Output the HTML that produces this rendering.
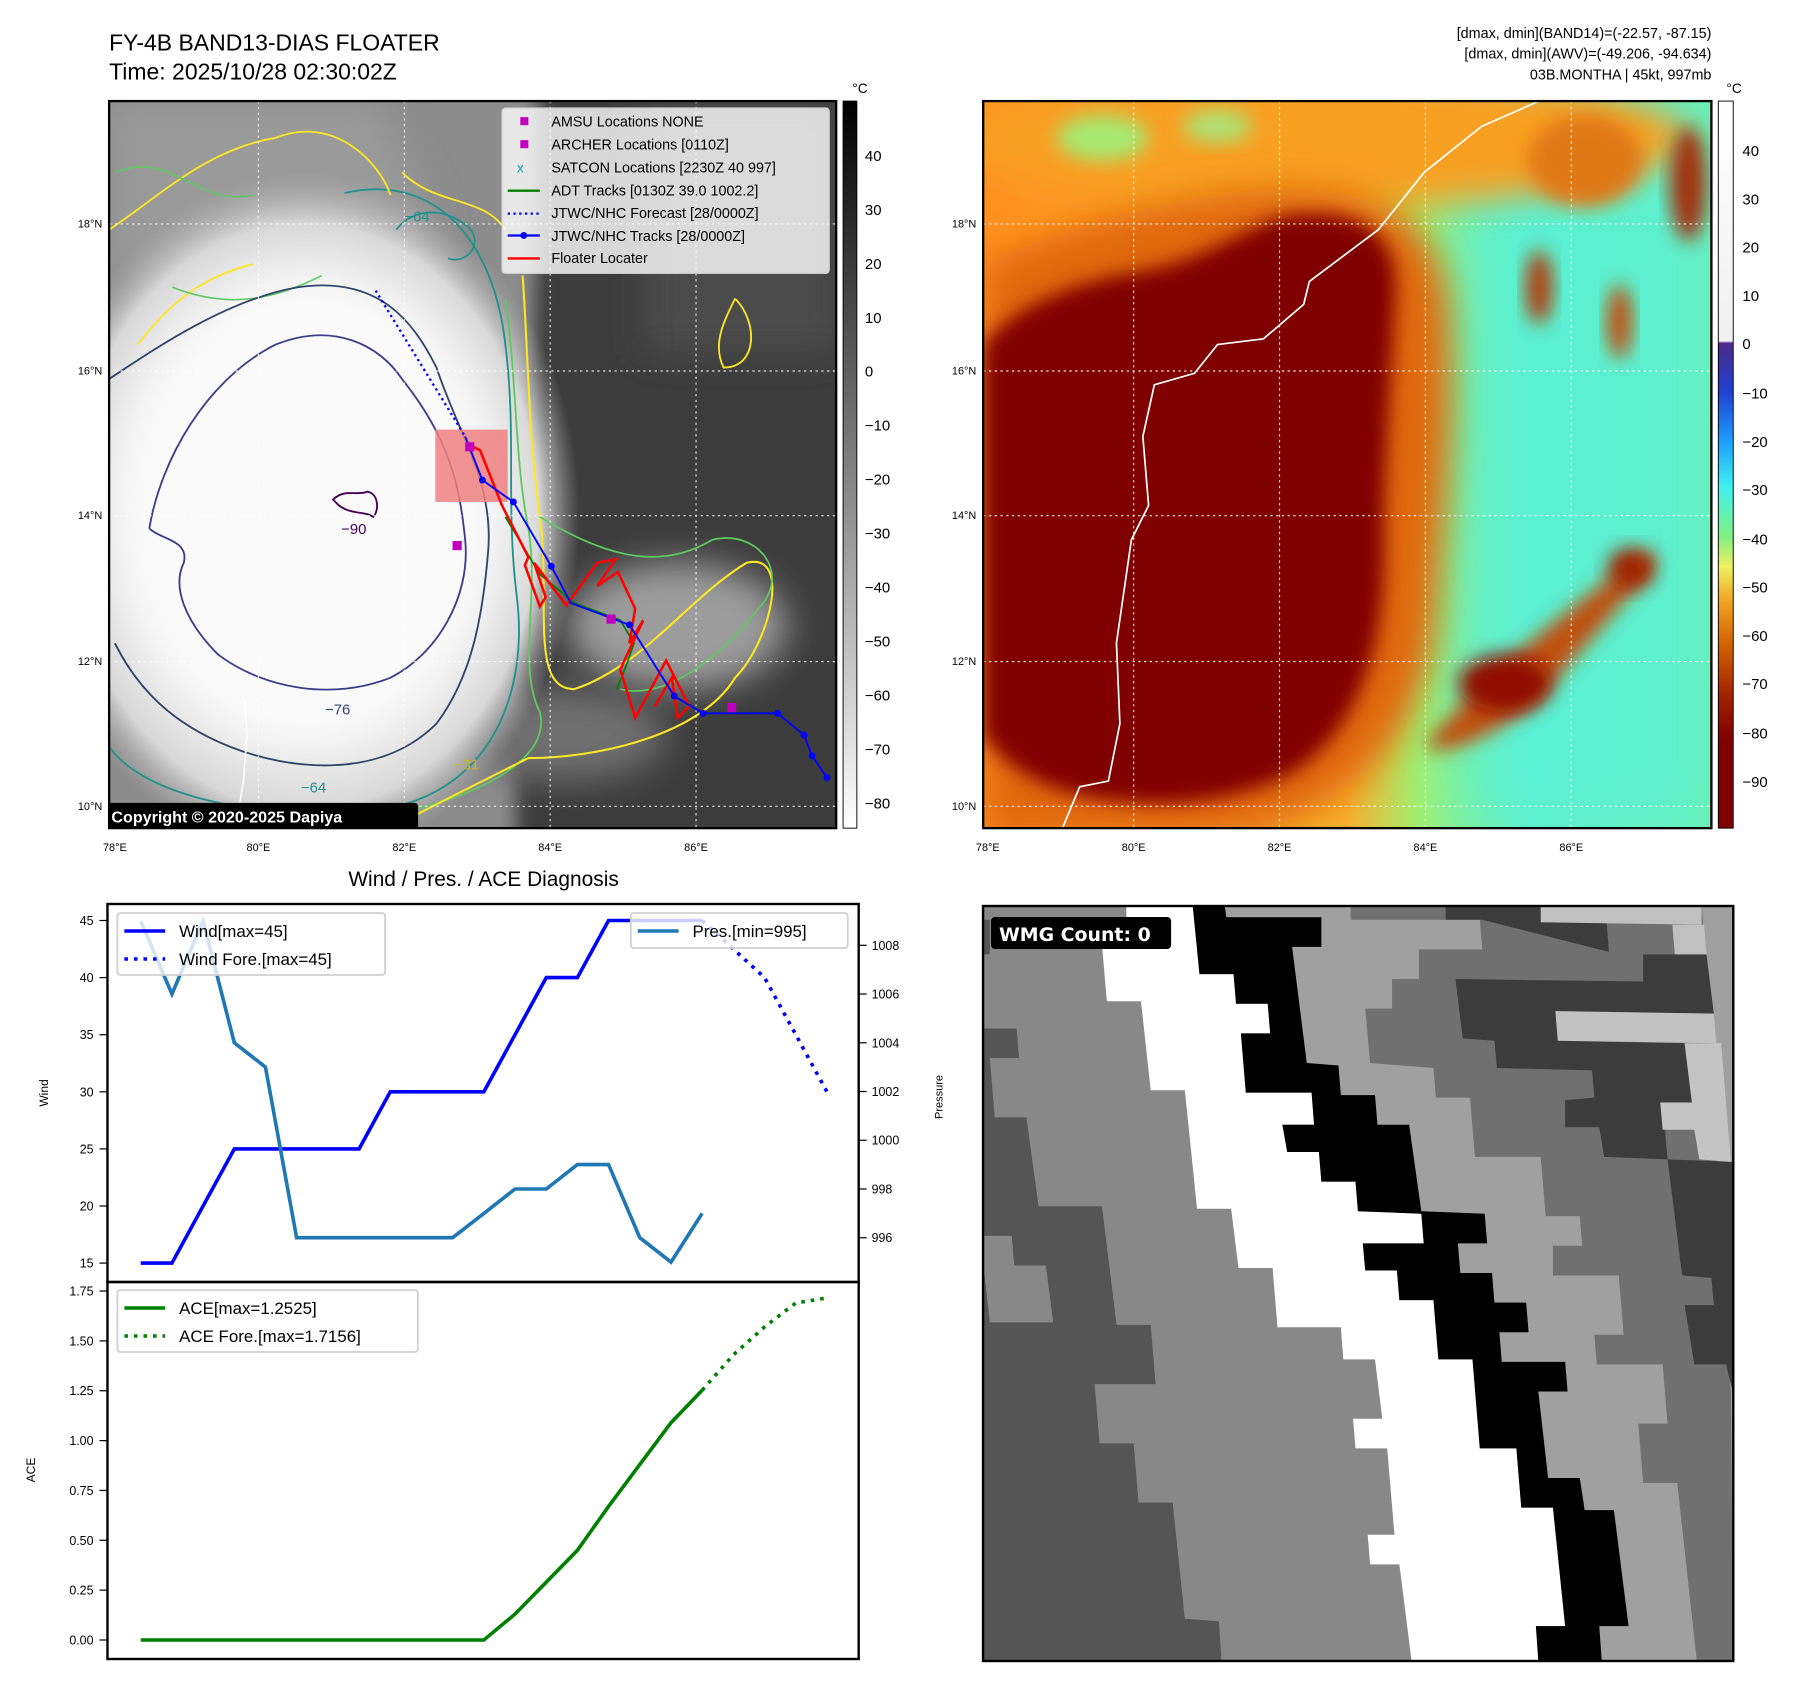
<!DOCTYPE html>
<html><head><meta charset="utf-8"><style>
html,body{margin:0;padding:0;background:#fff}
svg{display:block;font-family:"Liberation Sans","DejaVu Sans",sans-serif}
</style></head><body>
<svg id="root" width="1801" height="1690" viewBox="0 0 1801 1690" xmlns="http://www.w3.org/2000/svg">
<defs>
 <filter id="blur8" x="-30%" y="-30%" width="160%" height="160%"><feGaussianBlur stdDeviation="8"/></filter>
 <filter id="blur15" x="-30%" y="-30%" width="160%" height="160%"><feGaussianBlur stdDeviation="15"/></filter>
 <filter id="blur25" x="-30%" y="-30%" width="160%" height="160%"><feGaussianBlur stdDeviation="25"/></filter>
 <radialGradient id="stormG" cx="0.5" cy="0.5" r="0.5">
  <stop offset="0" stop-color="#ffffff"/><stop offset="0.6" stop-color="#f6f6f6"/><stop offset="0.85" stop-color="#d8d8d8"/><stop offset="1" stop-color="#b0b0b0" stop-opacity="0"/>
 </radialGradient>
 <linearGradient id="bgR" x1="0" y1="0" x2="1" y2="0">
  <stop offset="0" stop-color="#ff9020"/><stop offset="0.5" stop-color="#f8b030"/><stop offset="0.6" stop-color="#a0f070"/><stop offset="0.75" stop-color="#60f0c8"/><stop offset="1" stop-color="#70f0b0"/>
 </linearGradient>
 <linearGradient id="cbL" x1="0" y1="0" x2="0" y2="1"><stop offset="0" stop-color="#000"/><stop offset="1" stop-color="#fff"/></linearGradient>
 <linearGradient id="cbR" x1="0" y1="0" x2="0" y2="1">
  <stop offset="0" stop-color="#ffffff"/><stop offset="0.33" stop-color="#f0f0f0"/><stop offset="0.333" stop-color="#4b2a8a"/>
  <stop offset="0.40" stop-color="#2040d0"/><stop offset="0.47" stop-color="#1ea0ff"/><stop offset="0.53" stop-color="#40f0f0"/>
  <stop offset="0.60" stop-color="#80f080"/><stop offset="0.64" stop-color="#f0f060"/><stop offset="0.69" stop-color="#f0a020"/>
  <stop offset="0.75" stop-color="#d06000"/><stop offset="0.82" stop-color="#a02000"/><stop offset="0.88" stop-color="#800000"/><stop offset="1" stop-color="#800000"/>
 </linearGradient>
 <clipPath id="clipL"><rect x="95" y="88" width="633" height="633"/></clipPath>
 <clipPath id="clipR"><rect x="856" y="88" width="634" height="633"/></clipPath>
 <clipPath id="clipW"><rect x="6" y="12" width="1539" height="1528"/></clipPath>
</defs>

<g transform="scale(1.1486)">
 <text x="95" y="44" font-size="20">FY-4B BAND13-DIAS FLOATER</text>
 <text x="95" y="69" font-size="20">Time: 2025/10/28 02:30:02Z</text>
 <g font-size="12.5" text-anchor="end">
  <text x="1490" y="33">[dmax, dmin](BAND14)=(-22.57, -87.15)</text>
  <text x="1490" y="51">[dmax, dmin](AWV)=(-49.206, -94.634)</text>
  <text x="1490" y="69">03B.MONTHA | 45kt, 997mb</text>
 </g>

 <g clip-path="url(#clipL)">
  <rect x="95" y="88" width="633" height="633" fill="#3c3c3c"/>
  <rect x="560" y="88" width="170" height="220" fill="#4c4c4c" filter="url(#blur15)"/>
  <polygon points="60,60 470,60 465,300 445,460 450,760 60,760" fill="#8c8c8c" filter="url(#blur8)"/>
  <polygon points="95,88 330,88 380,200 300,230 95,240" fill="#9a9a9a" filter="url(#blur15)"/>
  <ellipse cx="590" cy="545" rx="95" ry="55" fill="#9c9c9c" filter="url(#blur15)"/>
  <ellipse cx="490" cy="640" rx="90" ry="40" fill="#707070" filter="url(#blur15)"/>
  <ellipse cx="265" cy="450" rx="240" ry="300" fill="url(#stormG)"/>
  <ellipse cx="270" cy="440" rx="160" ry="200" fill="#fafafa" filter="url(#blur25)"/>
  <path d="M300,168 C380,150 430,210 440,300 C450,380 440,440 450,520 C460,600 430,690 330,705 C250,715 130,700 95,650" fill="none" stroke="#21918c" stroke-width="1.6"/>
  <path d="M440,260 C450,330 448,400 460,460 C470,520 450,580 470,620 C480,660 420,690 360,705" fill="none" stroke="#5ec962" stroke-width="1.6"/>
  <path d="M455,240 C460,310 460,380 470,450 C480,520 460,600 500,600 C560,580 600,520 650,490 C690,480 670,560 640,590 C610,640 520,660 460,660 C420,680 380,700 340,721" fill="none" stroke="#fde725" stroke-width="1.8"/>
  <path d="M470,450 C520,480 570,500 620,470 C660,460 690,500 660,530 C630,570 580,610 540,600" fill="none" stroke="#5ec962" stroke-width="1.5"/>
  <path d="M95,200 C140,170 180,130 240,120 C290,100 330,140 340,170 M120,300 C150,260 180,240 220,230 M350,150 C380,180 420,170 440,200 M640,260 C660,280 660,320 630,320 C620,300 630,280 640,260" fill="none" stroke="#fde725" stroke-width="1.6"/>
  <path d="M100,150 C150,130 170,180 220,170 M150,250 C200,270 240,260 280,240" fill="none" stroke="#5ec962" stroke-width="1.4"/>
  <path d="M95,330 C140,300 200,260 260,250 C330,240 360,280 380,320 C400,380 430,420 425,480 C420,540 410,590 380,630 C330,680 250,670 200,650 C150,630 120,600 100,560" fill="none" stroke="#31446b" stroke-width="1.6"/>
  <path d="M130,460 C140,400 180,330 240,300 C290,280 330,300 350,330 C390,380 400,420 405,470 C410,520 380,570 340,590 C290,610 230,600 190,570 C160,540 150,510 160,490 C165,470 140,470 130,460" fill="none" stroke="#3b3d8b" stroke-width="1.6"/>
  <path d="M290,435 C300,425 310,432 320,428 C330,430 330,445 325,450 C318,445 305,448 295,440 Z" fill="none" stroke="#440154" stroke-width="1.6"/>
  <path d="M345,200 C360,180 390,180 410,200 C420,215 405,230 390,225" fill="none" stroke="#21918c" stroke-width="1.5"/>
  <g font-size="13">
   <text x="297" y="465" fill="#440154">−90</text>
   <text x="283" y="622" fill="#31446b">−76</text>
   <text x="262" y="690" fill="#21918c">−64</text>
   <text x="395" y="670" fill="#c8b820">−31</text>
   <text x="352" y="193" fill="#21918c">−64</text>
  </g>
  <g stroke="#ffffff" stroke-width="1" stroke-dasharray="2,3" opacity="0.85">
   <line x1="225" y1="88" x2="225" y2="721"/><line x1="352" y1="88" x2="352" y2="721"/><line x1="479" y1="88" x2="479" y2="721"/><line x1="606" y1="88" x2="606" y2="721"/>
   <line x1="95" y1="195" x2="728" y2="195"/><line x1="95" y1="323" x2="728" y2="323"/><line x1="95" y1="449" x2="728" y2="449"/><line x1="95" y1="576" x2="728" y2="576"/><line x1="95" y1="702" x2="728" y2="702"/>
  </g>
  <path d="M205,721 L212,680 L215,640 L213,610" fill="none" stroke="#fff" stroke-width="1.3"/>
  <rect x="379" y="374" width="63" height="63" fill="#f08080" opacity="0.85"/>
  <polyline points="327,253 405,380" fill="none" stroke="#0000ff" stroke-width="2" stroke-dasharray="2,3"/>
  <polyline points="440,450 470,500 500,525 540,540 552,560 545,580 537,600" fill="none" stroke="#008000" stroke-width="1.5"/>
  <polyline points="410,388 418,392 437,440 460,485 457,492 470,528 475,520 465,490 493,527 520,490 536,487 520,510 538,498 553,530 548,560 560,540 540,583 553,625 580,575 600,615 590,625 585,590 570,615" fill="none" stroke="#ff0000" stroke-width="2.2"/>
  <g>
   <polyline points="405,380 420,418 447,437 480,493 497,525 548,544 587,606 612,621 677,621 700,640 707,658 720,677" fill="none" stroke="#0000ff" stroke-width="1.6"/>
   <g fill="#0000ff"><circle cx="420" cy="418" r="3"/><circle cx="447" cy="437" r="3"/><circle cx="480" cy="493" r="3"/><circle cx="548" cy="544" r="3"/><circle cx="587" cy="606" r="3"/><circle cx="612" cy="621" r="3"/><circle cx="677" cy="621" r="3"/><circle cx="700" cy="640" r="3"/><circle cx="707" cy="658" r="3"/><circle cx="720" cy="677" r="3"/></g>
  </g>
  <g fill="#c000c0"><rect x="405" y="385" width="8" height="8"/><rect x="394" y="471" width="8" height="8"/><rect x="528" y="535" width="8" height="8"/><rect x="633" y="612" width="8" height="8"/></g>
  <rect x="437" y="94" width="285" height="144" fill="#fff" fill-opacity="0.8" stroke="#ccc" rx="3"/>
  <g font-size="12.5">
   <rect x="453" y="102" width="7" height="7" fill="#c000c0"/><text x="480" y="110">AMSU Locations NONE</text>
   <rect x="453" y="122" width="7" height="7" fill="#c000c0"/><text x="480" y="130">ARCHER Locations [0110Z]</text>
   <text x="450" y="150" fill="#00b0b0" font-size="12">x</text><text x="480" y="150">SATCON Locations [2230Z 40 997]</text>
   <line x1="442" y1="166" x2="470" y2="166" stroke="#008000" stroke-width="2"/><text x="480" y="170">ADT Tracks [0130Z 39.0 1002.2]</text>
   <line x1="442" y1="186" x2="470" y2="186" stroke="#0000ff" stroke-width="2" stroke-dasharray="2,3"/><text x="480" y="190">JTWC/NHC Forecast [28/0000Z]</text>
   <line x1="442" y1="205" x2="470" y2="205" stroke="#0000ff" stroke-width="2"/><circle cx="456" cy="205" r="3" fill="#0000ff"/><text x="480" y="210">JTWC/NHC Tracks [28/0000Z]</text>
   <line x1="442" y1="225" x2="470" y2="225" stroke="#ff0000" stroke-width="2"/><text x="480" y="229">Floater Locater</text>
  </g>
  <rect x="93" y="699" width="271" height="24" fill="#000" rx="3"/>
  <text x="97" y="716" font-size="14" font-weight="bold" fill="#fff">Copyright © 2020-2025 Dapiya</text>
 </g>
 <rect x="95" y="88" width="633" height="633" fill="none" stroke="#000" stroke-width="2"/>
 <g font-size="9.5" text-anchor="end">
  <text x="89" y="198">18°N</text><text x="89" y="326">16°N</text><text x="89" y="452">14°N</text><text x="89" y="579">12°N</text><text x="89" y="705">10°N</text>
 </g>
 <g font-size="9.5" text-anchor="middle">
  <text x="100" y="741">78°E</text><text x="225" y="741">80°E</text><text x="352" y="741">82°E</text><text x="479" y="741">84°E</text><text x="606" y="741">86°E</text>
 </g>
 <rect x="734" y="88" width="12" height="633" fill="url(#cbL)" stroke="#000" stroke-width="0.8"/>
 <text x="742" y="81" font-size="12">°C</text>
 <g font-size="13">
  <text x="753" y="140">40</text><text x="753" y="187">30</text><text x="753" y="234">20</text><text x="753" y="281">10</text><text x="753" y="328">0</text>
  <text x="753" y="375">−10</text><text x="753" y="422">−20</text><text x="753" y="469">−30</text><text x="753" y="516">−40</text><text x="753" y="563">−50</text>
  <text x="753" y="610">−60</text><text x="753" y="657">−70</text><text x="753" y="704">−80</text>
 </g>

 <g clip-path="url(#clipR)">
  <rect x="856" y="88" width="634" height="633" fill="url(#bgR)"/>
  <rect x="1270" y="88" width="220" height="633" fill="#58f0d8" filter="url(#blur25)" opacity="0.7"/>
  <ellipse cx="1150" cy="120" rx="320" ry="60" fill="#f8a020" filter="url(#blur15)"/>
  <ellipse cx="960" cy="120" rx="40" ry="20" fill="#a8e870" filter="url(#blur8)"/>
  <ellipse cx="1060" cy="110" rx="30" ry="15" fill="#b0e070" filter="url(#blur8)"/>
  <ellipse cx="1380" cy="140" rx="50" ry="40" fill="#e07818" filter="url(#blur8)"/>
  <ellipse cx="1470" cy="160" rx="16" ry="50" fill="#a03010" filter="url(#blur8)"/>
  <ellipse cx="1340" cy="250" rx="12" ry="32" fill="#b04010" filter="url(#blur8)"/>
  <ellipse cx="1410" cy="280" rx="11" ry="32" fill="#c05010" filter="url(#blur8)"/>
  <path d="M856,230 C920,200 1000,175 1100,165 C1180,160 1250,180 1260,260 C1270,360 1255,460 1250,540 C1240,640 1170,721 1050,730 L856,730 Z" fill="#e06810" filter="url(#blur15)"/>
  <path d="M856,300 C880,270 930,245 1000,235 C1050,225 1090,195 1120,188 C1180,180 1215,200 1215,250 C1212,330 1205,400 1205,470 C1207,560 1185,630 1130,670 C1070,705 990,705 930,690 C895,680 870,660 856,640 Z" fill="#800000" filter="url(#blur8)"/>
  <path d="M1240,650 C1280,600 1330,560 1380,520 C1420,490 1440,470 1440,490 C1420,520 1380,560 1340,610 C1300,640 1260,660 1240,650 Z" fill="#c05010" filter="url(#blur8)"/>
  <ellipse cx="1310" cy="595" rx="40" ry="25" fill="#901000" filter="url(#blur8)"/>
  <ellipse cx="1420" cy="495" rx="20" ry="18" fill="#a02000" filter="url(#blur8)"/>
  <path d="M925,721 L940,685 L965,680 L975,630 L972,560 L985,470 L1000,440 L995,380 L1005,335 L1040,325 L1060,300 L1100,295 L1135,265 L1140,245 L1200,200 L1240,150 L1290,110 L1340,88" fill="none" stroke="#fff" stroke-width="1.5"/>
  <g stroke="#ffffff" stroke-width="1" stroke-dasharray="2,3" opacity="0.9">
   <line x1="987" y1="88" x2="987" y2="721"/><line x1="1114" y1="88" x2="1114" y2="721"/><line x1="1241" y1="88" x2="1241" y2="721"/><line x1="1368" y1="88" x2="1368" y2="721"/>
   <line x1="856" y1="195" x2="1490" y2="195"/><line x1="856" y1="323" x2="1490" y2="323"/><line x1="856" y1="449" x2="1490" y2="449"/><line x1="856" y1="576" x2="1490" y2="576"/><line x1="856" y1="702" x2="1490" y2="702"/>
  </g>
 </g>
 <rect x="856" y="88" width="634" height="633" fill="none" stroke="#000" stroke-width="2"/>
 <g font-size="9.5" text-anchor="end">
  <text x="850" y="198">18°N</text><text x="850" y="326">16°N</text><text x="850" y="452">14°N</text><text x="850" y="579">12°N</text><text x="850" y="705">10°N</text>
 </g>
 <g font-size="9.5" text-anchor="middle">
  <text x="860" y="741">78°E</text><text x="987" y="741">80°E</text><text x="1114" y="741">82°E</text><text x="1241" y="741">84°E</text><text x="1368" y="741">86°E</text>
 </g>
 <rect x="1496" y="88" width="13" height="633" fill="url(#cbR)" stroke="#000" stroke-width="0.8"/>
 <text x="1503" y="81" font-size="12">°C</text>
 <g font-size="13">
  <text x="1517" y="136">40</text><text x="1517" y="178">30</text><text x="1517" y="220">20</text><text x="1517" y="262">10</text><text x="1517" y="304">0</text>
  <text x="1517" y="347">−10</text><text x="1517" y="389">−20</text><text x="1517" y="431">−30</text><text x="1517" y="474">−40</text><text x="1517" y="516">−50</text>
  <text x="1517" y="558">−60</text><text x="1517" y="600">−70</text><text x="1517" y="643">−80</text><text x="1517" y="685">−90</text>
 </g>
</g>

<g transform="scale(0.995,1)">
<g transform="translate(985,900) scale(0.490,0.494)">
 <g clip-path="url(#clipW)">
  <rect x="0" y="0" width="1545" height="1540" fill="#555"/>
  <polygon points="0,0 0,260 75,260 80,320 20,320 30,440 95,440 120,620 250,620 280,860 350,860 360,980 235,980 245,1100 315,1100 325,1220 395,1220 420,1455 490,1460 495,1540 1545,1540 1545,0" fill="#888"/>
  <polygon points="0,680 65,680 70,740 135,740 150,855 20,855" fill="#888"/>
  <polygon points="0,40 20,40 20,110 0,110" fill="#555"/>
  <polygon points="500,0 505,35 700,35 700,95 640,95 670,330 735,335 740,395 810,395 815,455 880,455 905,630 1035,635 1040,695 980,695 985,755 1050,755 1055,815 1120,815 1125,875 1065,875 1070,935 1200,935 1205,995 1145,995 1165,1170 1230,1170 1240,1235 1300,1235 1330,1470 1270,1470 1275,1540 1545,1540 1545,0" fill="#a0a0a0"/>
  <polygon points="760,0 1480,0 1540,1000 1545,1540 1470,1540 1430,1180 1360,1180 1350,1060 1410,1060 1400,940 1265,940 1260,880 1320,880 1310,760 1175,760 1175,700 1235,700 1230,640 1160,640 1150,520 1015,520 1005,400 935,400 930,340 800,330 790,220 845,220 845,160 900,160 900,100 1030,100 1025,40 760,40" fill="#707070"/>
  <polygon points="955,0 1150,0 1150,45 1285,45 1290,105 1360,110 1490,110 1505,230 1180,225 1185,285 1445,290 1460,410 1400,410 1410,525 1545,530 1545,1000 1530,940 1465,940 1445,820 1505,820 1500,765 1440,760 1410,525 1280,520 1270,460 1200,460 1200,405 1260,400 1255,345 1060,340 1055,285 990,280 975,160 1360,165 1360,110 1290,105 1030,40 955,40" fill="#3c3c3c"/>
  <polygon points="1150,0 1480,0 1480,50 1150,45" fill="#c0c0c0"/>
  <polygon points="1420,50 1485,50 1490,110 1425,110" fill="#c0c0c0"/>
  <polygon points="1180,225 1505,230 1510,290 1185,285" fill="#c2c2c2"/>
  <polygon points="1445,290 1520,290 1540,530 1475,525 1465,465 1400,465 1395,410 1460,410" fill="#c4c4c4"/>
  <polygon points="300,0 435,0 450,150 520,150 525,210 590,210 595,270 535,270 545,390 680,390 685,455 620,455 630,510 695,510 700,570 770,570 775,630 905,635 910,695 785,695 790,750 855,750 860,810 930,810 940,930 1010,930 1025,1110 1100,1110 1110,1230 1175,1230 1200,1470 1140,1470 1145,1540 885,1540 860,1345 800,1345 795,1285 850,1285 835,1110 770,1110 765,1050 825,1050 810,930 745,930 740,865 610,865 600,745 530,745 515,625 445,625 420,385 350,385 330,205 260,205 250,90 300,90" fill="#ffffff"/>
  <polygon points="435,0 500,0 505,35 700,35 700,95 640,95 670,330 735,335 740,395 810,395 815,455 880,455 905,630 1035,635 1040,695 980,695 985,755 1050,755 1055,815 1120,815 1125,875 1065,875 1070,935 1200,935 1205,995 1145,995 1165,1170 1230,1170 1240,1235 1300,1235 1330,1470 1270,1470 1275,1540 1145,1540 1140,1470 1200,1470 1175,1230 1110,1230 1100,1110 1025,1110 1010,930 940,930 930,810 860,810 855,750 790,750 785,695 910,695 905,635 775,630 770,570 700,570 695,510 630,510 620,455 685,455 680,390 545,390 535,270 595,270 590,210 525,210 520,150 450,150" fill="#000"/>
 </g>
</g>
<rect x="988" y="906" width="754" height="755" fill="none" stroke="#000" stroke-width="2.4"/>
<rect x="996" y="917" width="181" height="32" rx="4" fill="#000"/>
<text x="1004" y="941" font-size="19" font-weight="bold" fill="#fff" font-family="DejaVu Sans, sans-serif">WMG Count: 0</text>

<text x="486" y="886" font-size="21" text-anchor="middle">Wind / Pres. / ACE Diagnosis</text>
<g id="chart"></g>
</g>

<script>
const windVals = [15,15,20,25,25,25,25,25,30,30,30,30,35,40,40,45,45,45,45];
const windFore = [45,42.5,40,35,30];
const presVals = [1009,1006,1009,1004,1003,996,996,996,996,996,996,997,998,998,999,999,996,995,997];
const aceVals = [0,0,0,0,0,0,0,0,0,0,0,0,0.13,0.29,0.45,0.67,0.88,1.09,1.2525];
const aceFore = [1.2525,1.43,1.57,1.69,1.7156];
const windTicks = [15,20,25,30,35,40,45];
const presTicks = [996,998,1000,1002,1004,1006,1008];
const aceTicks = [0,0.25,0.5,0.75,1.0,1.25,1.5,1.75];
const foreStart = 18;

const NS = 'http://www.w3.org/2000/svg';
const chart = document.getElementById('chart');
const AX = {l:108, r:863, t:904, m:1282, b:1659};
function xPos(i){ return 141.4 + i*31.35; }
function windY(v){ return 920.5 + (45 - v)*11.42; }
function presY(p){ return 945.3 + (1008 - p)*24.37; }
function aceY(a){ return 1640 - a*199.4; }

function mk(tag, attrs, parent){
  const e = document.createElementNS(NS, tag);
  for (const k in attrs) e.setAttribute(k, attrs[k]);
  (parent||chart).appendChild(e);
  return e;
}
function pts(vals, yf, start){ return vals.map((v,i)=> xPos(i+start).toFixed(1)+','+yf(v).toFixed(1)).join(' '); }

const f1 = mk('rect',{x:AX.l,y:AX.t,width:AX.r-AX.l,height:AX.m-AX.t,fill:'none',stroke:'#000','stroke-width':2.4});


const f2 = mk('rect',{x:AX.l,y:AX.m,width:AX.r-AX.l,height:AX.b-AX.m,fill:'none',stroke:'#000','stroke-width':2.4});



windTicks.forEach(v=>{
  const y = windY(v);
  mk('line',{x1:AX.l-8,y1:y,x2:AX.l,y2:y,stroke:'#000','stroke-width':1.2});
  const t = mk('text',{x:AX.l-14,y:y+4.5,'font-size':12.5,'text-anchor':'end'});
  t.textContent = v;
  
  
});
presTicks.forEach(p=>{
  const y = presY(p);
  mk('line',{x1:AX.r,y1:y,x2:AX.r+8,y2:y,stroke:'#000','stroke-width':1.2});
  const t = mk('text',{x:AX.r+13,y:y+4.5,'font-size':12.5});
  t.textContent = p;
  
  
});
aceTicks.forEach(a=>{
  const y = aceY(a);
  mk('line',{x1:AX.l-8,y1:y,x2:AX.l,y2:y,stroke:'#000','stroke-width':1.2});
  const t = mk('text',{x:AX.l-14,y:y+4.5,'font-size':12.5,'text-anchor':'end'});
  t.textContent = a.toFixed(2);
  
  
});
const yl1 = mk('text',{x:0,y:0,'font-size':12,'text-anchor':'middle',transform:'translate(48,1093) rotate(-90)'});
yl1.textContent = 'Wind';


const yl2 = mk('text',{x:0,y:0,'font-size':11,'text-anchor':'middle',transform:'translate(947,1097) rotate(-90)'});
yl2.textContent = 'Pressure';


const yl3 = mk('text',{x:0,y:0,'font-size':12,'text-anchor':'middle',transform:'translate(35,1470) rotate(-90)'});
yl3.textContent = 'ACE';



const wl = mk('polyline',{points:pts(windVals,windY,0),fill:'none',stroke:'#0000ff','stroke-width':3.6,'stroke-linejoin':'miter'});


const wf = mk('polyline',{points:pts(windFore,windY,foreStart),fill:'none',stroke:'#0000ff','stroke-width':3.6,'stroke-dasharray':'3.6,6'});


const pl = mk('polyline',{points:pts(presVals,presY,0),fill:'none',stroke:'#1f77b4','stroke-width':3.6,'stroke-linejoin':'miter'});


const al = mk('polyline',{points:pts(aceVals,aceY,0),fill:'none',stroke:'#008000','stroke-width':3.6});


const af = mk('polyline',{points:pts(aceFore,aceY,foreStart),fill:'none',stroke:'#008000','stroke-width':3.6,'stroke-dasharray':'3.6,6'});



function legend(x,y,w,h,entries,name){
  const g = mk('g',{});
  
  
  mk('rect',{x:x,y:y,width:w,height:h,rx:3,fill:'#fff','fill-opacity':0.8,stroke:'#d0d0d0','stroke-width':1.8},g);
  entries.forEach((e,i)=>{
    const cy = y+18+i*28;
    const ln = mk('line',{x1:x+7,y1:cy,x2:x+48,y2:cy,stroke:e.c,'stroke-width':3.6},g);
    if(e.d) ln.setAttribute('stroke-dasharray','3.6,6');
    const t = mk('text',{x:x+62,y:cy+6,'font-size':17},g);
    t.textContent = e.t;
  });
}
legend(118,913,269,62,[{c:'#0000ff',t:'Wind[max=45]'},{c:'#0000ff',t:'Wind Fore.[max=45]',d:1}],'wind-legend');
legend(634,913,218,35,[{c:'#1f77b4',t:'Pres.[min=995]'}],'pressure-legend');
legend(118,1290,302,62,[{c:'#008000',t:'ACE[max=1.2525]'},{c:'#008000',t:'ACE Fore.[max=1.7156]',d:1}],'ace-legend');
</script>
</svg>
</body></html>
